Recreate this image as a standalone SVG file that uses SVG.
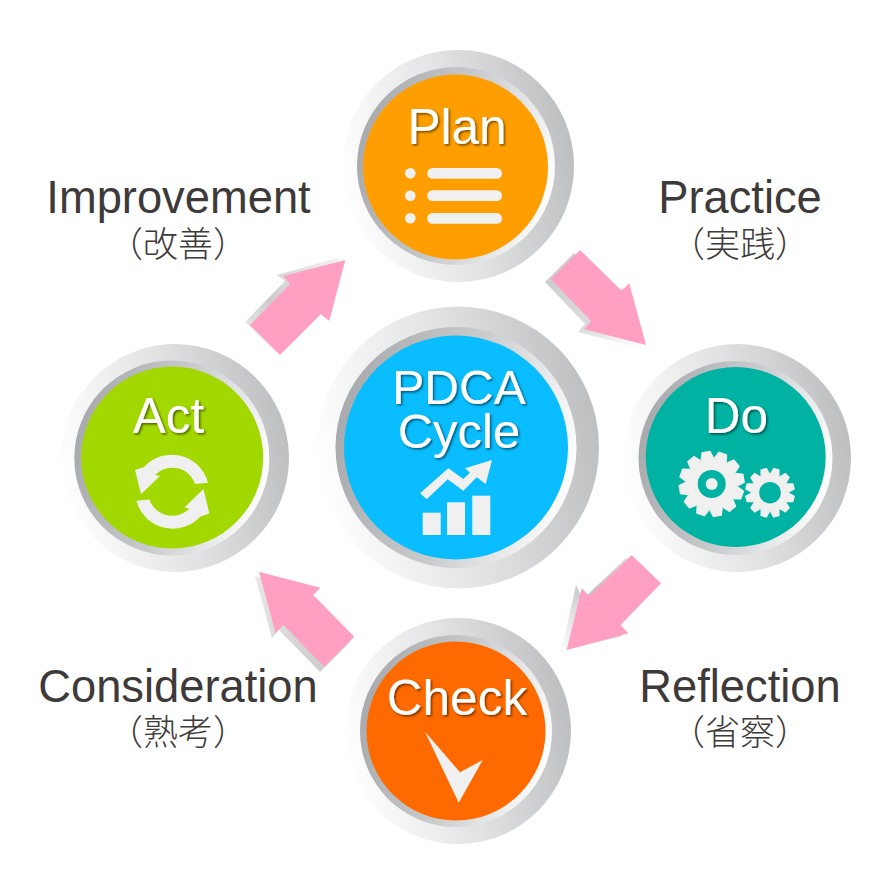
<svg xmlns="http://www.w3.org/2000/svg" width="896" height="894" viewBox="0 0 896 894">
<style>
.nt{font-family:"Liberation Sans",Arial,sans-serif;font-size:49.5px;fill:#fff;text-anchor:middle;filter:url(#ts)}
.lb{font-family:"Liberation Sans",Arial,sans-serif;font-size:45.3px;fill:#3e3a39;text-anchor:middle}
.jp{font-family:"Noto Sans CJK JP",sans-serif;font-weight:300;font-size:35px;fill:#3e3a39;text-anchor:middle}
.ic{fill:#f0f0f0}
.ar{fill:#ffa0c3}
.outer{fill:url(#go)}
.inner{fill:url(#gi)}
</style>
<defs>
<linearGradient id="go" x1="0" y1="0.6" x2="1" y2="0.4"><stop offset="0" stop-color="#fff"/><stop offset="0.5" stop-color="#e2e3e4"/><stop offset="1" stop-color="#bcbec0"/></linearGradient>
<linearGradient id="gi" x1="0" y1="0.35" x2="1" y2="0.6"><stop offset="0" stop-color="#a7a9ac"/><stop offset="0.5" stop-color="#c8cacc"/><stop offset="1" stop-color="#fff"/></linearGradient>
<linearGradient id="gs1" x1="0" y1="0" x2="1" y2="1"><stop offset="0" stop-color="#c8c8c8"/><stop offset="0.6" stop-color="#dcdcdc"/><stop offset="1" stop-color="#fff"/></linearGradient>
<linearGradient id="gs2" x1="0" y1="1" x2="1" y2="0"><stop offset="0" stop-color="#f4f4f4"/><stop offset="0.4" stop-color="#cccccc"/><stop offset="1" stop-color="#f4f4f4"/></linearGradient>
<linearGradient id="gs3" x1="1" y1="0" x2="0" y2="1"><stop offset="0" stop-color="#e8e8e8"/><stop offset="0.5" stop-color="#c4c4c4"/><stop offset="1" stop-color="#fff"/></linearGradient>
<linearGradient id="gs4" x1="1" y1="1" x2="0" y2="0"><stop offset="0" stop-color="#c8c8c8"/><stop offset="1" stop-color="#e8e8e8"/></linearGradient>
<filter id="ts" x="-20%" y="-20%" width="140%" height="140%"><feDropShadow dx="1.5" dy="1.5" stdDeviation="1" flood-color="#000" flood-opacity="0.55"/></filter>
<polygon id="t1" points="-7,-25 -4.5,-33 4.5,-33 7,-25"/>
<polygon id="t2" points="-5,-18 -3.2,-25 3.2,-25 5,-18"/>
<path id="ref" d="M135 470L144 467A37.5 37.5 0 0 1 208 482.7L195 484A24 24 0 0 0 155 475L160 476L141 494.3Z"/>
</defs>
<g id="connectors">
<g id="arrow-practice"><polygon fill="url(#gs1)" points="574,253 615,294 623,287 640,348 578,332 585,324 545,282"/><polygon class="ar" points="580,250 621.7,290.7 629.3,283.3 646,345 584.3,329.3 591,321 551,279.3"/></g>
<g id="arrow-reflection"><polygon fill="url(#gs3)" points="626,558 656,586 615,628 622,636 561,652 576,585 583,599"/><polygon class="ar" points="631.7,555 661,583.3 620.7,625 628.3,633.3 566.7,650 581.7,588.3 589.3,596"/></g>
<g id="arrow-consideration"><polygon fill="url(#gs4)" points="255,576 316,592 309,600 350,642 320,672 279,630 272,638"/><polygon class="ar" points="259,571.7 320.3,587.7 313.3,595 354.3,636.7 324.3,666.7 283.3,625 275.7,633.3"/></g>
<g id="arrow-improvement"><polygon fill="url(#gs2)" points="245,322 285,281 277,275 340,257 325,318 317,311 276,352"/><polygon class="ar" points="250,325 290,284 283.3,276 345.3,260 329.3,321 321,314 280,355"/></g>
</g>
<g id="node-plan">
<circle class="outer" cx="458" cy="166" r="116"/><circle class="inner" cx="456" cy="166" r="99"/><circle cx="455.5" cy="167" r="92.5" fill="#ff9e00"/>
<text class="nt" x="457" y="144">Plan</text>
<g class="ic"><circle cx="410.3" cy="173.3" r="5.3"/><circle cx="410.3" cy="195.7" r="5.3"/><circle cx="410.3" cy="218.3" r="5.3"/><rect x="427.3" y="168" width="74.7" height="10.7" rx="5.3"/><rect x="427.3" y="190.3" width="74.7" height="10.7" rx="5.3"/><rect x="427.3" y="213" width="74.7" height="10.7" rx="5.3"/></g>
</g>
<g id="node-do">
<circle class="outer" cx="737" cy="458" r="114"/><circle class="inner" cx="735.5" cy="458" r="97"/><circle cx="735.7" cy="457" r="90" fill="#00b2a2"/>
<text class="nt" x="736.5" y="433">Do</text>
<g class="ic" transform="translate(711.7 484)"><circle r="26"/><use href="#t1" transform="rotate(-10)"/><use href="#t1" transform="rotate(20)"/><use href="#t1" transform="rotate(50)"/><use href="#t1" transform="rotate(80)"/><use href="#t1" transform="rotate(110)"/><use href="#t1" transform="rotate(140)"/><use href="#t1" transform="rotate(170)"/><use href="#t1" transform="rotate(200)"/><use href="#t1" transform="rotate(230)"/><use href="#t1" transform="rotate(260)"/><use href="#t1" transform="rotate(290)"/><use href="#t1" transform="rotate(320)"/><circle r="14" fill="#00b2a2"/><circle r="6"/></g>
<g class="ic" transform="translate(770 492.7)"><circle r="19"/><use href="#t2" transform="rotate(15)"/><use href="#t2" transform="rotate(45)"/><use href="#t2" transform="rotate(75)"/><use href="#t2" transform="rotate(105)"/><use href="#t2" transform="rotate(135)"/><use href="#t2" transform="rotate(165)"/><use href="#t2" transform="rotate(195)"/><use href="#t2" transform="rotate(225)"/><use href="#t2" transform="rotate(255)"/><use href="#t2" transform="rotate(285)"/><use href="#t2" transform="rotate(315)"/><use href="#t2" transform="rotate(345)"/><circle r="10.8" fill="#00b2a2"/></g>
</g>
<g id="node-check">
<circle class="outer" cx="458" cy="731" r="113"/><circle class="inner" cx="456" cy="731" r="96"/><circle cx="456" cy="731" r="89.5" fill="#ff6a00"/>
<text class="nt" x="457" y="715">Check</text>
<polygon class="ic" points="425,731.7 460,772.3 482.7,760 458.7,802.7"/>
</g>
<g id="node-act">
<circle class="outer" cx="175" cy="458" r="114"/><circle class="inner" cx="171.8" cy="458" r="97.5"/><circle cx="172.2" cy="457.5" r="91" fill="#a2d800"/>
<text class="nt" x="168.5" y="433">Act</text>
<g class="ic"><use href="#ref"/><use href="#ref" transform="rotate(180 172.2 491.7)"/></g>
</g>
<g id="node-center">
<circle class="outer" cx="458" cy="447.5" r="141"/><circle class="inner" cx="456" cy="447.5" r="120.5"/><circle cx="456" cy="447.5" r="112" fill="#09bdff"/>
<text class="nt" x="459" y="404" style="font-size:48px">PDCA</text>
<text class="nt" x="459" y="448" style="font-size:49px">Cycle</text>
<g class="ic"><rect x="422.7" y="512.7" width="18" height="22.3"/><rect x="447" y="502.3" width="18" height="32.7"/><rect x="472.3" y="495.7" width="18" height="39.3"/><polygon points="420,493.3 448.3,468.3 463.3,479 470,472.7 465,468.3 492,460 485.7,484 476.7,477.3 463.3,490.7 447.7,479.3 426.7,499.3"/></g>
</g>
<g id="label-improvement"><text class="lb" x="178.5" y="213">Improvement</text><text class="jp" x="178" y="257">（改善）</text></g>
<g id="label-practice"><text class="lb" x="740" y="213">Practice</text><text class="jp" x="740" y="257">（実践）</text></g>
<g id="label-reflection"><text class="lb" x="740" y="702">Reflection</text><text class="jp" x="740" y="745">（省察）</text></g>
<g id="label-consideration"><text class="lb" x="178" y="702">Consideration</text><text class="jp" x="178" y="745">（熟考）</text></g>
</svg>
